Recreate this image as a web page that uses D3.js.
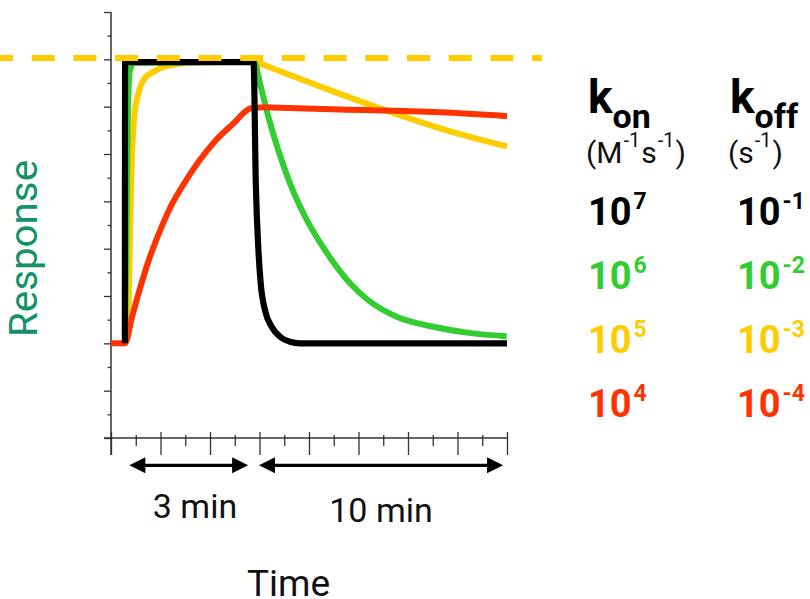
<!DOCTYPE html>
<html>
<head>
<meta charset="utf-8">
<script src="https://cdn.jsdelivr.net/npm/d3@7"></script>
<style>
html,body{margin:0;padding:0;background:#fff;}
svg{display:block;}
</style>
</head>
<body>
<svg id="chart" width="810" height="599"></svg>
<script>
// ---------- data (time in schematic units, response in schematic units) ----------
const majorTimeTicks = [0,1,2,3,4,5,6,7,8];
const minorTimeTicks = [0.5,1.5,2.5,3.5,4.5,5.5,6.5,7.5];
const majorRespTicks = [-2,-1,0,1,2,3,4,5,6,7];
const minorRespTicks = [-1.5,-0.5,0.5,1.5,2.5,3.5,4.5,5.5,6.5];
const saturationLevel = 6.03;

const blackCurve = [[0.28,0],[0.285,5.94],[2.88,5.94],[2.925,3.39],[2.978,1.97],[3.024,1.27],
  [3.111,0.70],[3.246,0.35],[3.414,0.14],[3.616,0.034],[3.818,0],[8,0]];
const greenCurve = [[0.285,0],[0.31,2.0],[0.34,4.7],[0.38,5.75],[0.46,5.93],[2.88,5.95],
  [2.909,5.92],[3.010,5.49],[3.178,4.79],[3.380,4.08],[3.616,3.38],[3.919,2.68],[4.323,1.97],
  [4.828,1.27],[5.198,0.91],[5.772,0.56],[6.511,0.35],[7.319,0.21],[7.994,0.15]];
const yellowCurve = [[0.29,0],[0.33,0.2],[0.36,1.0],[0.39,2.67],[0.43,4.08],[0.47,4.79],
  [0.552,5.28],[0.653,5.56],[0.855,5.74],[1.125,5.86],[1.8,5.94],[2.88,5.95],[2.90,5.945],
  [3.41,5.75],[4.42,5.35],[5.64,4.89],[6.78,4.50],[8,4.16]];
const redCurve = [[0,0],[0.283,0],[0.418,0.53],[0.586,1.16],[0.754,1.73],[0.956,2.29],
  [1.192,2.86],[1.461,3.35],[1.764,3.83],[2.101,4.27],[2.438,4.61],[2.842,4.97],[3.11,4.99],
  [3.6,4.97],[4.63,4.94],[6.65,4.88],[8,4.80]];

const seriesColors = ["#ffcc00","#33cc33","#ff3300","#000000"];
const legendColors = ["#000000","#33cc33","#ffcc00","#ff3300"];
const konExponents = ["7","6","5","4"];
const koffExponents = ["-1","-2","-3","-4"];
const phaseLabels = ["3 min","10 min"];
const phaseSpans = [[0.37,2.77],[2.99,7.92]];

// ---------- scales ----------
const svg = d3.select("#chart");
const x = d3.scaleLinear().domain([0,8]).range([111,507]);
const y = d3.scaleLinear().domain([-2,7]).range([438,12]);
const axisColor = "#333";

// ---------- axes ----------
const gx = svg.append("g").attr("transform",`translate(0,${y(-2)})`);
gx.append("g").call(d3.axisBottom(x).tickValues(majorTimeTicks).tickSize(17).tickFormat(""))
  .call(g=>{g.select(".domain").remove();g.selectAll(".tick line").attr("y1",-6).attr("stroke",axisColor).attr("stroke-width",1.3);});
gx.append("g").call(d3.axisBottom(x).tickValues(minorTimeTicks).tickSize(8).tickFormat(""))
  .call(g=>{g.select(".domain").remove();g.selectAll(".tick line").attr("y1",-3).attr("stroke",axisColor).attr("stroke-width",1.3);});

const gy = svg.append("g").attr("transform",`translate(${x(0)},0)`);
gy.append("g").call(d3.axisLeft(y).tickValues(majorRespTicks).tickSize(7).tickFormat(""))
  .call(g=>{g.select(".domain").remove();g.selectAll(".tick line").attr("stroke",axisColor).attr("stroke-width",1.3);});
gy.append("g").call(d3.axisLeft(y).tickValues(minorRespTicks).tickSize(3.5).tickFormat(""))
  .call(g=>{g.select(".domain").remove();g.selectAll(".tick line").attr("stroke",axisColor).attr("stroke-width",1.3);});

svg.append("line").attr("x1",x(0)).attr("x2",x(0)).attr("y1",y(7)).attr("y2",y(-2)+17)
  .attr("stroke",axisColor).attr("stroke-width",1.5);
svg.append("line").attr("x1",x(0)-7).attr("x2",x(8)).attr("y1",y(-2)).attr("y2",y(-2))
  .attr("stroke",axisColor).attr("stroke-width",1.5);

// ---------- curves ----------
const line = d3.line().x(d=>x(d[0])).y(d=>y(d[1])).curve(d3.curveMonotoneX);
const curves = [yellowCurve, greenCurve, redCurve, blackCurve];
svg.append("g").selectAll("path").data(curves).join("path")
  .attr("d", line)
  .attr("fill","none")
  .attr("stroke",(d,i)=>seriesColors[i])
  .attr("stroke-width",(d,i)=> i===3 ? 6.2 : 6)
  .attr("stroke-linejoin","miter")
  .attr("stroke-linecap","butt");

// saturation dashed line
svg.append("line")
  .attr("x1",0).attr("x2",x(8.71))
  .attr("y1",y(saturationLevel)).attr("y2",y(saturationLevel))
  .attr("stroke","#ffcc00").attr("stroke-width",6)
  .attr("stroke-dasharray","23 18.7").attr("stroke-dashoffset",10);

// ---------- phase arrows ----------
const arrowY = 465.3, headL = 16, headH = 8;
const ag = svg.append("g");
phaseSpans.forEach(s=>{
  const a = x(s[0]), b = x(s[1]);
  ag.append("line").attr("x1",a+headL-2).attr("x2",b-headL+2).attr("y1",arrowY).attr("y2",arrowY)
    .attr("stroke","#000").attr("stroke-width",3.3);
  ag.append("path").attr("d",`M${a},${arrowY}L${a+headL},${arrowY-headH}L${a+headL},${arrowY+headH}Z`).attr("fill","#000");
  ag.append("path").attr("d",`M${b},${arrowY}L${b-headL},${arrowY-headH}L${b-headL},${arrowY+headH}Z`).attr("fill","#000");
});
svg.append("text").attr("x",195).attr("y",518).attr("text-anchor","middle")
  .attr("font-family","Roboto").attr("font-size",34).attr("fill","#111").text(phaseLabels[0]);
svg.append("text").attr("x",381).attr("y",522).attr("text-anchor","middle")
  .attr("font-family","Roboto").attr("font-size",34).attr("fill","#111").text(phaseLabels[1]);

// ---------- axis titles ----------
svg.append("text").attr("x",288.5).attr("y",596).attr("text-anchor","middle")
  .attr("font-family","Roboto").attr("font-size",37).attr("fill","#111").text("Time");
svg.append("text").attr("transform","translate(37,248.5) rotate(-90)").attr("text-anchor","middle")
  .attr("font-family","Roboto").attr("font-size",38).attr("fill","#14906b")
  .attr("textLength",177).attr("lengthAdjust","spacingAndGlyphs").text("Response");

// ---------- legend ----------
const lg = svg.append("g").attr("font-family","Roboto");
function kHeader(x0, sub){
  const t = lg.append("text").attr("x",x0).attr("y",113).attr("font-weight",700).attr("fill","#000");
  t.append("tspan").attr("font-size",46).text("k");
  t.append("tspan").attr("font-size",34).attr("dy",15).text(sub);
}
kHeader(588,"on");
kHeader(730,"off");

function unitText(x0, parts){
  const t = lg.append("text").attr("x",x0).attr("y",163).attr("font-size",30).attr("fill","#111");
  parts.forEach(p=>{
    const ts = t.append("tspan").text(p[0]);
    if(p[1]==="sup") ts.attr("font-size",20).attr("dy",-16.5).attr("dx",1);
    else if(p[1]==="down") ts.attr("dy",16.5).attr("dx",1);
  });
}
unitText(586,[["(M"],["-1","sup"],["s","down"],["-1","sup"],[")","down"]]);
unitText(728,[["(s"],["-1","sup"],[")","down"]]);

function powerText(x0, yb, exp, color){
  const t = lg.append("text").attr("x",x0).attr("y",yb).attr("font-weight",700).attr("fill",color);
  t.append("tspan").attr("font-size",38).text("10");
  t.append("tspan").attr("font-size",23).attr("dy",-16).attr("dx",2).text(exp);
}
konExponents.forEach((e,i)=>powerText(588, 225+64*i, e, legendColors[i]));
koffExponents.forEach((e,i)=>powerText(737, 225+64*i, e, legendColors[i]));
</script>
</body>
</html>
